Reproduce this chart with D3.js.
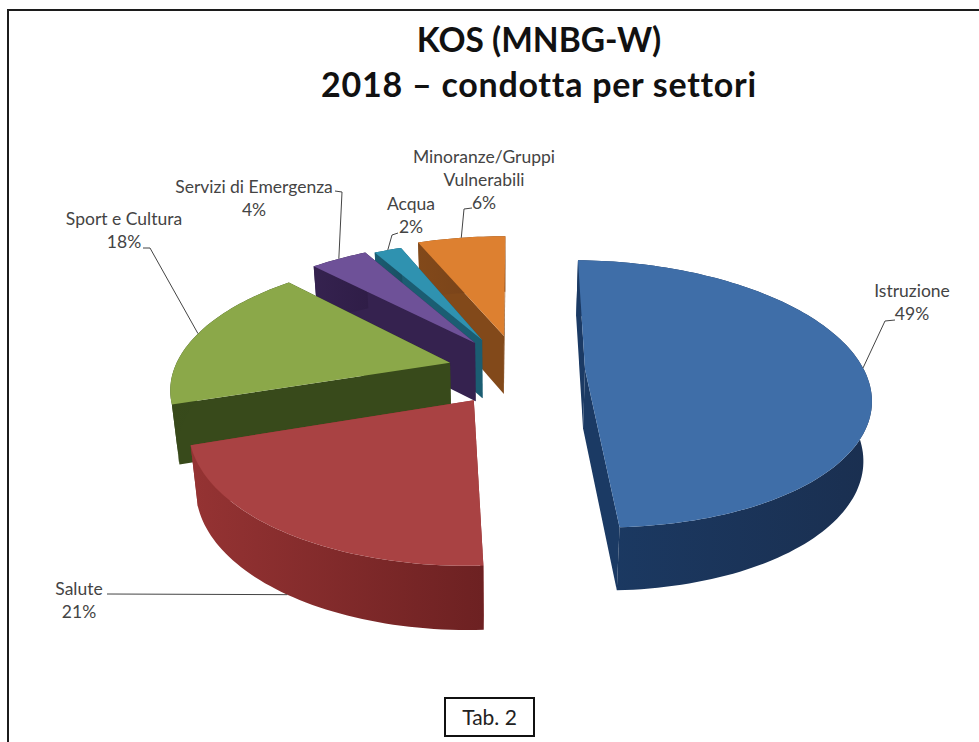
<!DOCTYPE html>
<html><head><meta charset="utf-8">
<script src="https://cdn.jsdelivr.net/npm/d3@7"></script>
<style>html,body{margin:0;padding:0;background:#fff}svg{display:block}text{font-family:Lato,"Open Sans",sans-serif}</style>
</head><body><svg id="c" width="979" height="742"></svg>
<script>
// data (slice sizes; the labels show them rounded)
const categories=["Istruzione","Salute","Sport e Cultura","Servizi di Emergenza","Acqua","Minoranze/Gruppi Vulnerabili"];
const values=[49,20.7,18,4.05,2,6.25];
const titleLines=["KOS (MNBG-W)","2018 – condotta per settori"];
const tabLabel="Tab. 2";
// styles
const topColors=["#3f6ea8","#a94243","#8ba849","#6e5198","#2f92b0","#dd8030"];
const wallLeft=["#1b3a64","#953333","#384a1b","#35224f","#1b5d72","#82491a"];
const wallRight=["#1a2f50","#6d2122","#33461a","#2f1d47","#184f62","#74401a"];
// explosion and radius of each slice on the pie plane
const explodeX=[0.305,-0.09,-0.181,-0.093,-0.067,0.015];
const explodeY=[0,-0.23,0.05,0.21,0.236,0.27];
const radii=[1,0.96,0.99,1,0.97,1];
const drawOrder=[5,4,3,2,1,0];
// label layout
const labelLines=[["Istruzione"],["Salute"],["Sport e Cultura"],["Servizi di Emergenza"],["Acqua"],["Minoranze/Gruppi","Vulnerabili"]];
const labelX=[912,79,124,254,411,484];
const labelY=[297,595,225,193,210,163];
const leaderElbows=[[[895,320],[885,321]],[[107,594]],[[143,248],[150,248]],[[335,191],[342,192]],[[398,233],[392,235]],[[472,208],[464,209]]];
const leaderPlane=["top","bottom","top","top","top","top"];
const titleSizes=[33.5,34];
const titleSpacing=[0,0.74];

// projection of the tilted pie plane
const xv=500,yv=-333,a=1516,b=3820,d=5.44,shrink=0.977;
const wallDepth=d3.scaleLinear().domain([0,1]).range([40,143]);
const top3=(X,Y)=>{const k=d+Y;return [xv+a*X/k,yv+b/k]};
const bot3=(X,Y)=>{const k=d+Y;return [xv+shrink*a*X/k,yv+b/k+wallDepth(1/k)]};

const svg=d3.select("#c");
const defs=svg.append("defs");
const line=d3.line();
const poly=p=>line(p)+"Z";
const pct=d3.format(".0f");

const deg=Math.PI/180;
const arcs=d3.pie().sort(null).startAngle(1.5*deg).endAngle(360.5*deg)(values);

// frame
svg.append("path").attr("d",line([[8,742],[8,10],[979,10]])).attr("fill","none").attr("stroke","#1c1c1c").attr("stroke-width",2);

drawOrder.forEach(i=>{
  const s=arcs[i],cx=explodeX[i],cy=explodeY[i],r=radii[i];
  const n=Math.max(6,Math.ceil((s.endAngle-s.startAngle)*40));
  const angles=d3.range(n+1).map(j=>s.startAngle+(s.endAngle-s.startAngle)*j/n);
  const rim=angles.map(t=>[cx+r*Math.sin(t),cy+r*Math.cos(t)]);
  const g=svg.append("g").attr("class","slice").attr("data-name",categories[i]);
  const gid="w"+i;
  const lg=defs.append("linearGradient").attr("id",gid);
  lg.append("stop").attr("offset",0).attr("stop-color",wallLeft[i]);
  lg.append("stop").attr("offset",1).attr("stop-color",wallRight[i]);
  const c=[cx,cy];
  const quad=(p,q)=>poly([top3(...p),top3(...q),bot3(...q),bot3(...p)]);
  // cut faces: the farther one first, so that it never shows over the nearer one
  const cuts=[rim[0],rim[n]].sort((p,q)=>q[1]-p[1]);
  cuts.forEach(e=>g.append("path").attr("d",quad(c,e)).attr("fill",wallLeft[i]));
  g.append("path").attr("d",poly(rim.map(p=>top3(...p)).concat(rim.slice().reverse().map(p=>bot3(...p))))).attr("fill",`url(#${gid})`);
  g.append("path").attr("d",poly([top3(...c)].concat(rim.map(p=>top3(...p))))).attr("fill",topColors[i]);
});

// leaders and labels
arcs.forEach((s,i)=>{
  const m=(s.startAngle+s.endAngle)/2;
  const P=[explodeX[i]+radii[i]*Math.sin(m),explodeY[i]+radii[i]*Math.cos(m)];
  const end=leaderPlane[i]==="top"?top3(...P):bot3(...P);
  svg.append("path").attr("d",line(leaderElbows[i].concat([end]))).attr("fill","none").attr("stroke","#444").attr("stroke-width",1);
  const t=svg.append("text").attr("text-anchor","middle").attr("font-size",17.5).attr("fill","#444");
  labelLines[i].concat([pct(values[i])+"%"]).forEach((txt,j)=>{
    t.append("tspan").attr("x",labelX[i]).attr("y",labelY[i]+j*23).text(txt);
  });
});

// title
svg.selectAll("text.title").data(titleLines).join("text").attr("class","title")
  .attr("x",539).attr("y",(d,i)=>52+i*45).attr("text-anchor","middle")
  .attr("font-size",(d,i)=>titleSizes[i]).attr("letter-spacing",(d,i)=>titleSpacing[i])
  .attr("font-weight",700).attr("fill","#111").text(d=>d);

// tab box
svg.append("rect").attr("x",445).attr("y",698).attr("width",89).attr("height",38).attr("fill","#fff").attr("stroke","#111").attr("stroke-width",2);
svg.append("text").attr("x",489.5).attr("y",725).attr("text-anchor","middle").attr("font-size",21).attr("fill","#222").text(tabLabel);
</script></body></html>
